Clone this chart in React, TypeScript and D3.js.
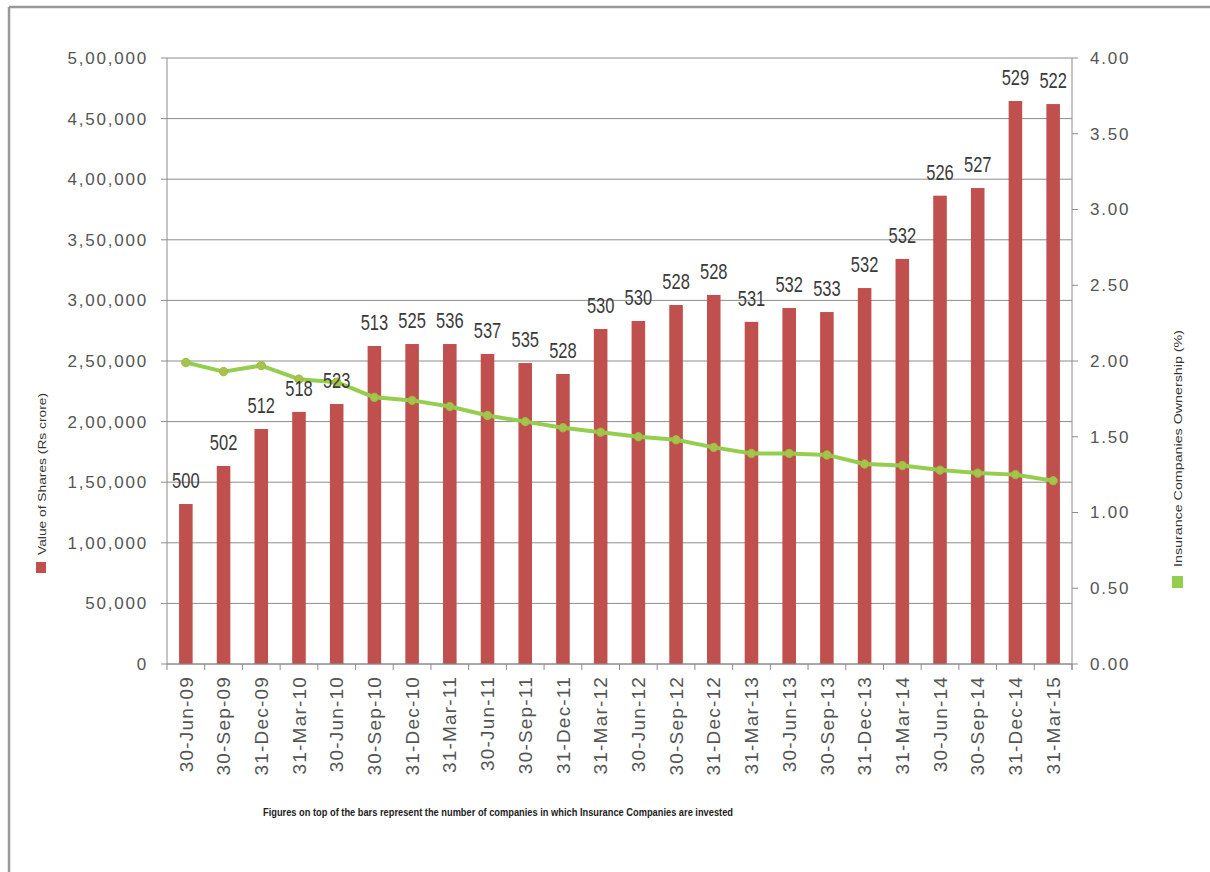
import React from 'react';
import * as d3 from 'd3';

const quarters = [
  '30-Jun-09', '30-Sep-09', '31-Dec-09', '31-Mar-10', '30-Jun-10', '30-Sep-10',
  '31-Dec-10', '31-Mar-11', '30-Jun-11', '30-Sep-11', '31-Dec-11', '31-Mar-12',
  '30-Jun-12', '30-Sep-12', '31-Dec-12', '31-Mar-13', '30-Jun-13', '30-Sep-13',
  '31-Dec-13', '31-Mar-14', '30-Jun-14', '30-Sep-14', '31-Dec-14', '31-Mar-15',
];

// value of shares held (Rs crore)
const shareValues = [
  132000, 163400, 193900, 208000, 214500, 262400,
  264000, 264000, 255800, 248300, 239300, 276400,
  283000, 296200, 304500, 282300, 293700, 290400,
  310200, 334200, 386400, 392700, 464500, 462000,
];

// number of companies invested in (labels on bars)
const companyCounts = [
  500, 502, 512, 518, 523, 513, 525, 536, 537, 535, 528, 530,
  530, 528, 528, 531, 532, 533, 532, 532, 526, 527, 529, 522,
];

// insurance companies ownership (%)
const ownership = [
  1.99, 1.93, 1.97, 1.88, 1.86, 1.76, 1.74, 1.70, 1.64, 1.60, 1.56, 1.53,
  1.50, 1.48, 1.43, 1.39, 1.39, 1.38, 1.32, 1.31, 1.28, 1.26, 1.25, 1.21,
];

const leftTicks = [0, 50000, 100000, 150000, 200000, 250000, 300000, 350000, 400000, 450000, 500000];
const leftTickLabels = ['0', '50,000', '1,00,000', '1,50,000', '2,00,000', '2,50,000', '3,00,000', '3,50,000', '4,00,000', '4,50,000', '5,00,000'];
const rightTicks = [0, 0.5, 1, 1.5, 2, 2.5, 3, 3.5, 4];

const leftAxisTitle = 'Value of Shares (Rs crore)';
const rightAxisTitle = 'Insurance Companies Ownership (%)';
const caption = 'Figures on top of the bars represent the number of companies in which Insurance Companies are invested';

const W = 1210;
const H = 872;
const plot = { left: 167, right: 1072, top: 58, bottom: 664 };

const BAR = '#C0504D';
const LINE = '#95CE4F';
const AXIS = '#8c8c8c';
const TEXT = '#555';
const FONT = '"Liberation Sans", Arial, sans-serif';

const App: React.FC = () => {
  const x = d3.scaleBand<string>()
    .domain(quarters)
    .range([plot.left, plot.right])
    .paddingInner(0.64)
    .paddingOuter(0.32);
  const step = x.step();

  const yLeft = d3.scaleLinear().domain([0, 500000]).range([plot.bottom, plot.top]);
  const yRight = d3.scaleLinear().domain([0, 4]).range([plot.bottom, plot.top]);

  const cx = (q: string) => (x(q) || 0) + x.bandwidth() / 2;

  const line = d3.line<number>()
    .x((_, i) => cx(quarters[i]))
    .y(d => yRight(d));

  return (
    <svg width={W} height={H} style={{ position: 'absolute', left: 0, top: 0, background: '#fff' }}>
      {/* outer frame */}
      <line x1={9} x2={W} y1={7} y2={7} stroke="#999" strokeWidth={2.5} />
      <line x1={9} x2={9} y1={7} y2={H} stroke="#999" strokeWidth={2.5} />

      {/* gridlines */}
      {leftTicks.map(t => (
        <line key={`g-${t}`} x1={plot.left - 6} x2={plot.right} y1={yLeft(t)} y2={yLeft(t)} stroke={AXIS} strokeWidth={1} />
      ))}

      {/* bars */}
      {quarters.map((q, i) => (
        <rect key={`b-${q}`} x={x(q)} y={yLeft(shareValues[i])} width={x.bandwidth()}
          height={plot.bottom - yLeft(shareValues[i])} fill={BAR} />
      ))}

      {/* axes */}
      <line x1={plot.left} x2={plot.left} y1={plot.top} y2={plot.bottom} stroke={AXIS} />
      <line x1={plot.right} x2={plot.right} y1={plot.top} y2={plot.bottom + 6} stroke={AXIS} />
      <line x1={plot.left} x2={plot.right} y1={plot.bottom} y2={plot.bottom} stroke={AXIS} />
      {rightTicks.map(t => (
        <line key={`rt-${t}`} x1={plot.right} x2={plot.right + 6} y1={yRight(t)} y2={yRight(t)} stroke={AXIS} />
      ))}
      {d3.range(quarters.length + 1).map(i => (
        <line key={`xt-${i}`} x1={plot.left + i * step} x2={plot.left + i * step}
          y1={plot.bottom} y2={plot.bottom + 6} stroke={AXIS} />
      ))}

      {/* ownership line */}
      <path d={line(ownership) || ''} fill="none" stroke={LINE} strokeWidth={4} strokeLinejoin="round" />
      {ownership.map((v, i) => (
        <circle key={`m-${i}`} cx={cx(quarters[i])} cy={yRight(v)} r={4.2}
          fill="#A8C24C" stroke="#93BE45" strokeWidth={1} />
      ))}

      {/* bar labels */}
      {quarters.map((q, i) => (
        <text key={`bl-${q}`} transform={`translate(${cx(q)},${yLeft(shareValues[i]) - 16}) scale(0.75,1)`}
          textAnchor="middle" fontSize={22} fill="#3a3a3a" fontFamily={FONT}>
          {companyCounts[i]}
        </text>
      ))}

      {/* left tick labels */}
      {leftTicks.map((t, i) => (
        <text key={`lt-${t}`} x={148} y={yLeft(t)} dy="0.35em" textAnchor="end" fontSize={17}
          letterSpacing={1.8} fill={TEXT} fontFamily={FONT}>
          {leftTickLabels[i]}
        </text>
      ))}

      {/* right tick labels */}
      {rightTicks.map(t => (
        <text key={`rl-${t}`} x={1090} y={yRight(t)} dy="0.35em" textAnchor="start" fontSize={17}
          letterSpacing={1.8} fill={TEXT} fontFamily={FONT}>
          {d3.format('.2f')(t)}
        </text>
      ))}

      {/* category labels */}
      {quarters.map(q => (
        <text key={`xl-${q}`} transform={`translate(${cx(q)},${plot.bottom + 12}) rotate(-90)`}
          textAnchor="end" dy="0.35em" fontSize={19} letterSpacing={1.2} fill={TEXT} fontFamily={FONT}>
          {q}
        </text>
      ))}

      {/* left legend */}
      <rect x={36} y={562} width={10} height={11} fill={BAR} />
      <text transform="translate(42,555) rotate(-90)" textAnchor="start" dy="0.35em" fontSize={11}
        textLength={162} lengthAdjust="spacingAndGlyphs" fill="#333" fontFamily={FONT}>
        {leftAxisTitle}
      </text>

      {/* right legend */}
      <rect x={1172} y={576} width={11} height={12} fill={LINE} />
      <text transform="translate(1178,567) rotate(-90)" textAnchor="start" dy="0.35em" fontSize={11}
        textLength={237} lengthAdjust="spacingAndGlyphs" fill="#333" fontFamily={FONT}>
        {rightAxisTitle}
      </text>

      {/* caption */}
      <text x={263} y={812} dy="0.35em" fontSize={11} fontWeight="bold" textLength={470}
        lengthAdjust="spacingAndGlyphs" fill="#222" fontFamily={FONT}>
        {caption}
      </text>
    </svg>
  );
};

export default App;
